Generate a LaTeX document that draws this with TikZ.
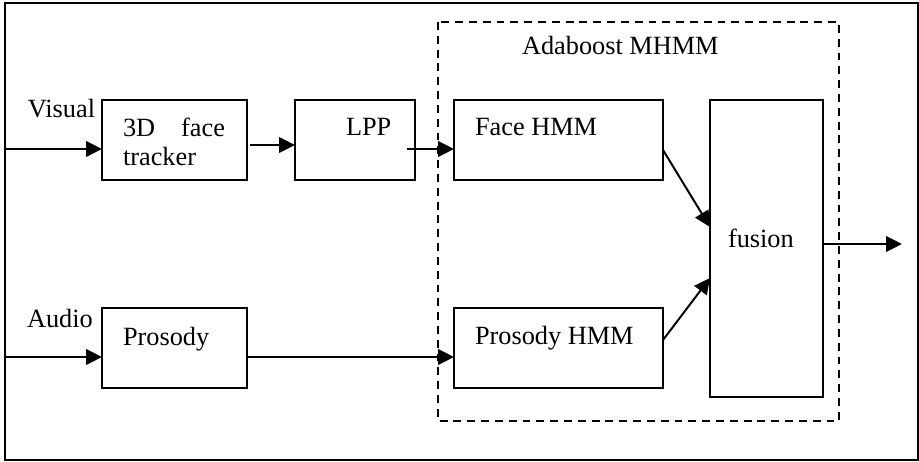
\documentclass[tikz,border=0pt]{standalone}
\usepackage{fontspec}
\setmainfont{Liberation Serif}
\usetikzlibrary{arrows.meta}
\newlength\pxu
\setlength\pxu{0.456pt}
\begin{document}
\begin{tikzpicture}[x=\pxu, y=-\pxu,
  every node/.style={font=\fontsize{12}{14}\selectfont, inner sep=0pt, outer sep=0pt},
  block/.style={draw, line width=0.9pt, fill=white},
  lbl/.style={anchor=base west},
  arr/.style={line width=0.9pt, -{Triangle[length=7.2pt, width=7pt]}},
  frame/.style={draw, line width=0.9pt},
  group/.style={draw, line width=0.9pt, dash pattern=on 3.6pt off 2.7pt}]
\useasboundingbox (0,0) rectangle (919,462);

% outer frame and the Adaboost group
\draw[frame] (5,3) rectangle (918,460);
\draw[group] (438,22) rectangle (839,421);

% processing blocks
\node[block, minimum width={145*\pxu}, minimum height={80*\pxu}] (tracker) at (174.5,140) {};
\node[block, minimum width={120*\pxu}, minimum height={80*\pxu}] (lpp) at (355,140) {};
\node[block, minimum width={209*\pxu}, minimum height={80*\pxu}] (face) at (558.5,140) {};
\node[block, minimum width={113*\pxu}, minimum height={297*\pxu}] (fusion) at (766.5,248.5) {};
\node[block, minimum width={145*\pxu}, minimum height={80*\pxu}] (prosody) at (174.5,348) {};
\node[block, minimum width={209*\pxu}, minimum height={80*\pxu}] (proshmm) at (558.5,348) {};

% texts
\node[lbl] (tVisual) at (28,118) {Visual};
\node[lbl] (tAudio) at (27,327) {Audio};
\node[lbl] (tTrackA) at (123,137) {\makebox[{102\pxu}][s]{3D\hfill face}};
\node[lbl] (tTrackB) at (123,166) {tracker};
\node[lbl] (tLpp) at (346,136) {LPP};
\node[lbl] (tFace) at (475,136) {Face HMM};
\node[lbl] (tAda) at (522,55) {Adaboost MHMM};
\node[lbl] (tFusion) at (728,247) {fusion};
\node[lbl] (tProsody) at (123,345) {Prosody};
\node[lbl] (tProsHmm) at (475,344) {Prosody HMM};

% inputs and output
\coordinate (visIn) at (5,149);
\coordinate (audIn) at (5,357);
\coordinate (out) at (902,244);

% connectors
\draw[arr] (visIn) -- (visIn -| tracker.west);
\draw[arr] ([shift={(3,5)}]tracker.east) -- ([shift={(0,5)}]lpp.west);
\draw[arr] ([shift={(-8,9)}]lpp.east) -- ([shift={(0,9)}]face.west);
\draw[arr] ([shift={(0,10)}]face.east) -- ([shift={(0,-21.5)}]fusion.west);
\draw[arr] ([shift={(0,-8)}]proshmm.east) -- ([shift={(0,29.5)}]fusion.west);
\draw[arr] ([shift={(0,-4.5)}]fusion.east) -- (out);
\draw[arr] (audIn) -- (audIn -| prosody.west);
\draw[arr] ([shift={(0,9)}]prosody.east) -- ([shift={(0,9)}]proshmm.west);
\end{tikzpicture}
\end{document}
